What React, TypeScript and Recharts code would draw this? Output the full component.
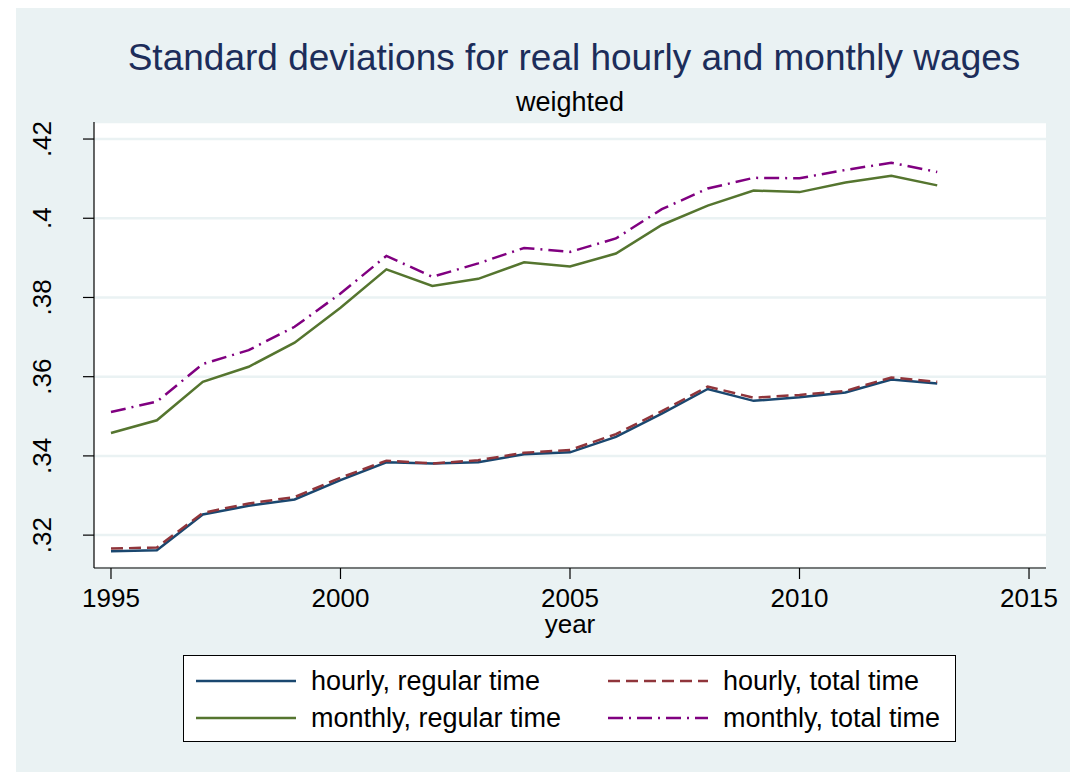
import React from 'react';
import { LineChart, Line, XAxis, YAxis, CartesianGrid } from 'recharts';

// values
const years = [1995, 1996, 1997, 1998, 1999, 2000, 2001, 2002, 2003, 2004, 2005, 2006, 2007, 2008, 2009, 2010, 2011, 2012, 2013];
const hourlyRegular = [0.3159, 0.3162, 0.3252, 0.3274, 0.3290, 0.3339, 0.3384, 0.3381, 0.3384, 0.3404, 0.3409, 0.3448, 0.3507, 0.3569, 0.3539, 0.3548, 0.3560, 0.3593, 0.3583];
const hourlyTotal = [0.3166, 0.3169, 0.3256, 0.3280, 0.3296, 0.3345, 0.3388, 0.3381, 0.3389, 0.3408, 0.3415, 0.3455, 0.3513, 0.3575, 0.3547, 0.3554, 0.3564, 0.3598, 0.3587];
const monthlyRegular = [0.3458, 0.3490, 0.3587, 0.3625, 0.3686, 0.3774, 0.3871, 0.3829, 0.3847, 0.3889, 0.3878, 0.3911, 0.3983, 0.4032, 0.4070, 0.4066, 0.4090, 0.4107, 0.4083];
const monthlyTotal = [0.3511, 0.3537, 0.3632, 0.3667, 0.3726, 0.3810, 0.3905, 0.3852, 0.3886, 0.3925, 0.3915, 0.3949, 0.4023, 0.4075, 0.4102, 0.4101, 0.4122, 0.4140, 0.4117];

const xTicks = [1995, 2000, 2005, 2010, 2015];
const yTicks = [0.32, 0.34, 0.36, 0.38, 0.4, 0.42];

const series = [
  { key: 'hr', name: 'hourly, regular time', color: '#1a476f', dash: undefined },
  { key: 'ht', name: 'hourly, total time', color: '#90353b', dash: '12 6' },
  { key: 'mr', name: 'monthly, regular time', color: '#55752f', dash: undefined },
  { key: 'mt', name: 'monthly, total time', color: '#800080', dash: '15 6 2 6' },
];

const data = years.map((year, i) => ({
  year,
  hr: hourlyRegular[i],
  ht: hourlyTotal[i],
  mr: monthlyRegular[i],
  mt: monthlyTotal[i],
}));

const FONT = '"Liberation Sans", Arial, sans-serif';
const BG = '#eaf2f3';

const fmt = (v: number) => String(Number(v.toFixed(2))).replace(/^0/, '');

const YTick = ({ y, payload }: any) => (
  <text
    x={51}
    y={y}
    transform={`rotate(-90, 51, ${y})`}
    textAnchor="middle"
    fontSize={26}
    fontFamily={FONT}
    fill="#000"
  >
    {fmt(payload.value)}
  </text>
);

const LegendBox = () => {
  // two columns: regular time left, total time right
  const cols = [[series[0], series[2]], [series[1], series[3]]];
  return (
    <div
      style={{
        position: 'absolute',
        left: 183,
        top: 655,
        width: 771,
        height: 85,
        background: '#fff',
        border: '1px solid #000',
      }}
    >
      {cols.map((col, ci) =>
        col.map((s, ri) => (
          <div
            key={s.key}
            style={{
              position: 'absolute',
              left: ci === 0 ? 11 : 423,
              top: ri === 0 ? 10 : 47,
              height: 30,
              display: 'flex',
              alignItems: 'center',
            }}
          >
            <svg width={102} height={6}>
              <line x1={1} y1={3} x2={101} y2={3} stroke={s.color} strokeWidth={2.5} strokeDasharray={s.dash} />
            </svg>
            <span style={{ marginLeft: 14, fontSize: 27, fontFamily: FONT, color: '#000', whiteSpace: 'nowrap' }}>{s.name}</span>
          </div>
        ))
      )}
    </div>
  );
};

export default function App() {
  return (
    <div style={{ position: 'absolute', left: 0, top: 0, width: 1070, height: 774, background: '#fff' }}>
      <div style={{ position: 'absolute', left: 16, top: 8, width: 1054, height: 764, background: BG }} />
      <div style={{ position: 'absolute', left: 0, top: 0 }}>
        <LineChart width={1070} height={774} data={data} margin={{ top: 122, right: 24, bottom: 146, left: 0 }}>
          <CartesianGrid vertical={false} stroke={BG} strokeWidth={2.5} fill="#fff" />
          <XAxis
            dataKey="year"
            type="number"
            domain={[1994.63, 2015.37]}
            ticks={xTicks}
            height={60}
            tickSize={11}
            tickMargin={10}
            axisLine={{ stroke: '#000', strokeWidth: 1.2 }}
            tickLine={{ stroke: '#000', strokeWidth: 1.2 }}
            tick={{ fontSize: 26, fontFamily: FONT, fill: '#000' }}
            interval={0}
          />
          <YAxis
            type="number"
            domain={[0.3117, 0.4243]}
            ticks={yTicks}
            width={94}
            tickSize={11}
            axisLine={{ stroke: '#000', strokeWidth: 1.2 }}
            tickLine={{ stroke: '#000', strokeWidth: 1.2 }}
            tick={<YTick />}
            interval={0}
          />
          {series.map((s) => (
            <Line
              key={s.key}
              type="linear"
              dataKey={s.key}
              name={s.name}
              stroke={s.color}
              strokeWidth={2.5}
              strokeDasharray={s.dash}
              dot={false}
              isAnimationActive={false}
            />
          ))}
        </LineChart>
      </div>
      <div
        style={{
          position: 'absolute',
          left: 0,
          width: 1148,
          top: 39,
          textAlign: 'center',
          fontSize: 37,
          lineHeight: '37px',
          fontFamily: FONT,
          color: '#1c2d5a',
          whiteSpace: 'nowrap',
        }}
      >
        Standard deviations for real hourly and monthly wages
      </div>
      <div
        style={{
          position: 'absolute',
          left: 0,
          width: 1140,
          top: 89,
          textAlign: 'center',
          fontSize: 27,
          lineHeight: '27px',
          fontFamily: FONT,
          color: '#000',
        }}
      >
        weighted
      </div>
      <div
        style={{
          position: 'absolute',
          left: 0,
          width: 1140,
          top: 616,
          textAlign: 'center',
          fontSize: 26,
          lineHeight: '16px',
          fontFamily: FONT,
          color: '#000',
        }}
      >
        year
      </div>
      <LegendBox />
    </div>
  );
}
